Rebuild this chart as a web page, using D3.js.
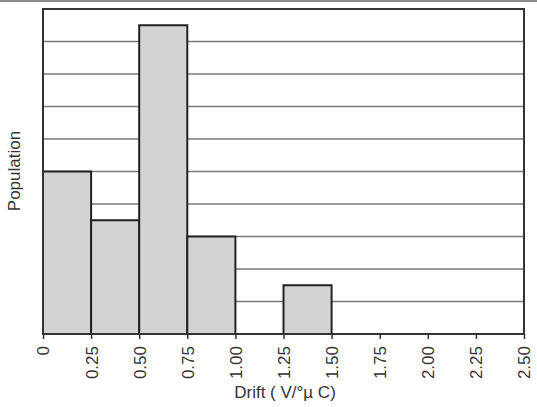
<!DOCTYPE html>
<html>
<head>
<meta charset="utf-8">
<script src="https://cdn.jsdelivr.net/npm/d3@7"></script>
<style>
  body { margin: 0; background: #fff; }
  svg { display: block; font-family: "Liberation Sans", Arial, sans-serif; }
</style>
</head>
<body>
<svg width="537" height="407"></svg>
<script>
var svg = d3.select('svg');
var width = +svg.attr('width');
var height = +svg.attr('height');

// histogram bins (lower edges) and bar heights
var binStarts = [0, 0.25, 0.5, 0.75, 1.0, 1.25, 1.5, 1.75, 2.0, 2.25];
var binWidth = 0.25;
var counts = [5, 3.5, 9.5, 3, 0, 1.5, 0, 0, 0, 0];
var xTicks = [0, 0.25, 0.5, 0.75, 1.0, 1.25, 1.5, 1.75, 2.0, 2.25, 2.5];
var xTickLabels = ['0', '0.25', '0.50', '0.75', '1.00', '1.25', '1.50', '1.75', '2.00', '2.25', '2.50'];
var gridValues = [1, 2, 3, 4, 5, 6, 7, 8, 9];

var padding = {t: 9, r: 13, b: 73, l: 43};
var chartWidth = width - padding.l - padding.r;
var chartHeight = height - padding.t - padding.b;

var xScale = d3.scaleLinear().domain([0, 2.5]).range([0, chartWidth]);
var yScale = d3.scaleLinear().domain([0, 10]).range([chartHeight, 0]);

// thin frame line at top of image
svg.append('line')
  .attr('x1', 0).attr('x2', width)
  .attr('y1', 1).attr('y2', 1)
  .attr('stroke', '#8a8a8a').attr('stroke-width', 2);

var chartG = svg.append('g').attr('transform', 'translate(' + [padding.l, padding.t] + ')');

// horizontal grid
chartG.selectAll('.grid')
  .data(gridValues)
  .enter().append('line')
  .attr('class', 'grid')
  .attr('x1', 0).attr('x2', chartWidth)
  .attr('y1', function(d) { return yScale(d); })
  .attr('y2', function(d) { return yScale(d); })
  .attr('stroke', '#7a7a7a').attr('stroke-width', 1.5);

// bars
chartG.selectAll('.bar')
  .data(counts.map(function(c, i) { return {x: binStarts[i], v: c}; }).filter(function(d) { return d.v > 0; }))
  .enter().append('rect')
  .attr('class', 'bar')
  .attr('x', function(d) { return xScale(d.x); })
  .attr('width', function(d) { return xScale(d.x + binWidth) - xScale(d.x); })
  .attr('y', function(d) { return yScale(d.v); })
  .attr('height', function(d) { return yScale(0) - yScale(d.v); })
  .attr('fill', '#d3d3d3')
  .attr('stroke', '#222').attr('stroke-width', 2);

// plot frame
chartG.append('rect')
  .attr('x', 0).attr('y', 0)
  .attr('width', chartWidth).attr('height', chartHeight)
  .attr('fill', 'none')
  .attr('stroke', '#333').attr('stroke-width', 2);

// x axis
var xAxis = d3.axisBottom(xScale)
  .tickValues(xTicks)
  .tickSize(5)
  .tickFormat(function(d, i) { return xTickLabels[i]; });

var axisG = chartG.append('g')
  .attr('transform', 'translate(0,' + chartHeight + ')')
  .call(xAxis);
axisG.select('.domain').remove();
axisG.selectAll('.tick line').attr('stroke', '#333').attr('stroke-width', 1.5);
axisG.selectAll('.tick text')
  .attr('font-size', 17)
  .attr('font-family', '"Liberation Sans", Arial, sans-serif')
  .attr('fill', '#333')
  .attr('text-anchor', 'end')
  .attr('x', -12)
  .attr('y', 0)
  .attr('dy', '0.35em')
  .attr('transform', 'rotate(-90)');

// axis titles
svg.append('text')
  .attr('x', 285).attr('y', 398)
  .attr('text-anchor', 'middle')
  .attr('font-size', 17)
  .attr('fill', '#333')
  .text('Drift ( V/°µ C)');

svg.append('text')
  .attr('transform', 'translate(20,171) rotate(-90)')
  .attr('text-anchor', 'middle')
  .attr('font-size', 17)
  .attr('fill', '#333')
  .text('Population');
</script>
</body>
</html>
